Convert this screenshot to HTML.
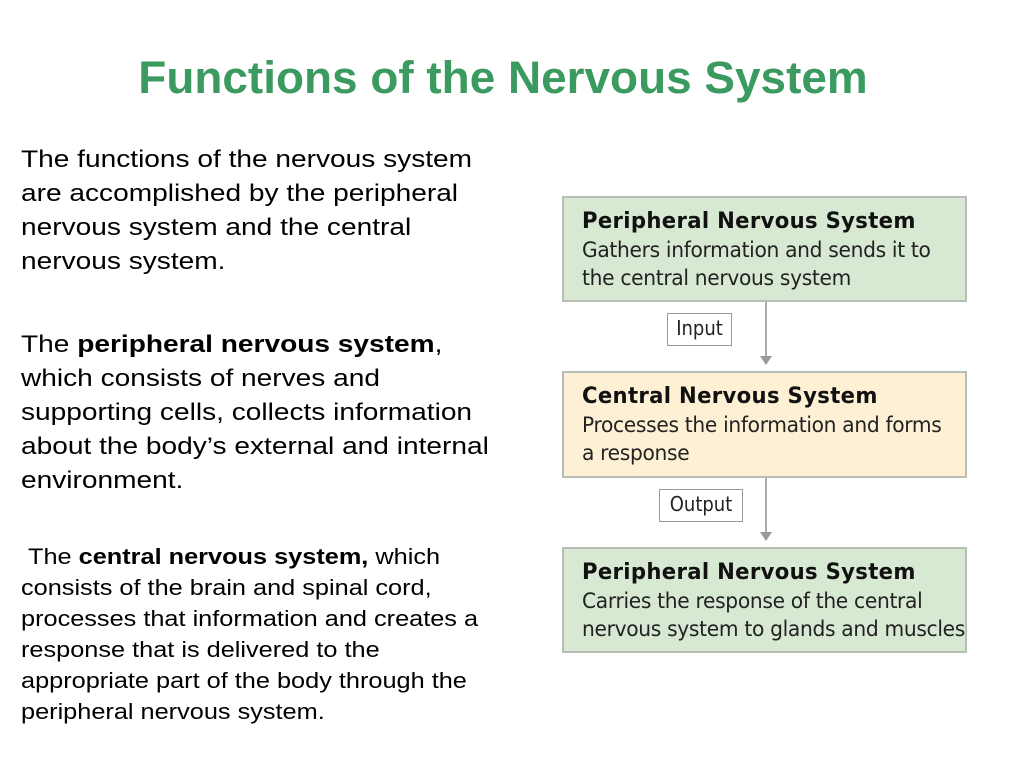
<!DOCTYPE html>
<html><head><meta charset="utf-8"><style>
body{margin:0;width:1024px;height:768px;background:#fff;position:relative;font-family:"Liberation Sans",sans-serif;overflow:hidden}
.t{position:absolute;left:0;width:1006px;top:52px;text-align:center;color:#3a9a5f;font-weight:bold;font-size:45px;transform:scaleX(1.02)}
.p{position:absolute;left:21px;color:#000;font-size:24px;line-height:34px;transform:scaleX(1.17);transform-origin:0 0;white-space:nowrap}
.box{position:absolute;left:562px;width:405px;border:2px solid #b8bdb8;box-sizing:border-box;padding:9px 0 0 18px;font-family:"DejaVu Sans Condensed","DejaVu Sans",sans-serif;font-size:21px;line-height:28px;color:#222;letter-spacing:-0.3px}
.box .in{transform:scaleX(1.07);transform-origin:0 0;white-space:nowrap}
.box b{color:#111;font-size:22px;letter-spacing:0.3px}
.g{background:#d7e9d2}.y{background:#fdf0d4}
.lbl{position:absolute;border:1.5px solid #999;background:#fff;font-family:"DejaVu Sans Condensed","DejaVu Sans",sans-serif;font-size:20px;text-align:center;line-height:28px;color:#222;box-sizing:border-box}
.ln{position:absolute;left:765px;width:2px;background:#aaa}
.ar{position:absolute;left:760px;width:0;height:0;border-left:6px solid transparent;border-right:6px solid transparent;border-top:9px solid #999}
</style></head><body>
<div class="t">Functions of the Nervous System</div>
<div class="p" style="top:143px">The functions of the nervous system<br>are accomplished by the peripheral<br>nervous system and the central<br>nervous system.</div>
<div class="p" style="top:328px">The <b>peripheral nervous system</b>,<br>which consists of nerves and<br>supporting cells, collects information<br>about the body’s external and internal<br>environment.</div>
<div class="p" style="top:541px;font-size:22px;line-height:31px;transform:scaleX(1.15)">&nbsp;The <b>central nervous system,</b> which<br>consists of the brain and spinal cord,<br>processes that information and creates a<br>response that is delivered to the<br>appropriate part of the body through the<br>peripheral nervous system.</div>

<div class="box g" style="top:196px;height:106px"><div class="in"><b>Peripheral Nervous System</b><br>Gathers information and sends it to<br>the central nervous system</div></div>
<div class="ln" style="top:302px;height:56px"></div><div class="ar" style="top:356px"></div>
<div class="lbl" style="left:667px;top:313px;width:65px;height:33px">Input</div>
<div class="box y" style="top:371px;height:107px"><div class="in"><b>Central Nervous System</b><br>Processes the information and forms<br>a response</div></div>
<div class="ln" style="top:478px;height:56px"></div><div class="ar" style="top:532px"></div>
<div class="lbl" style="left:659px;top:489px;width:84px;height:33px">Output</div>
<div class="box g" style="top:547px;height:106px"><div class="in"><b>Peripheral Nervous System</b><br>Carries the response of the central<br>nervous system to glands and muscles</div></div>
</body></html>
